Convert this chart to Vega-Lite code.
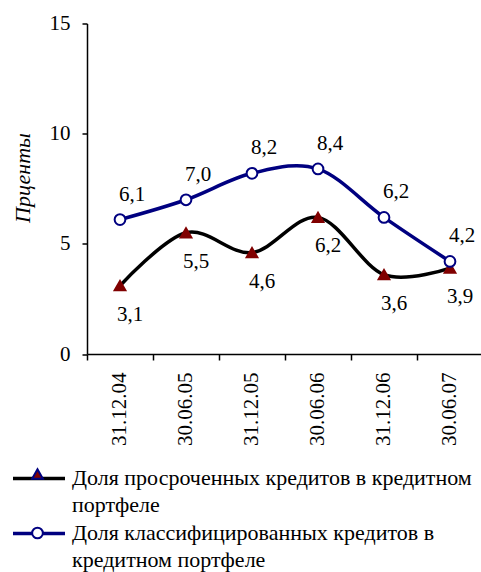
{
  "$schema": "https://vega.github.io/schema/vega-lite/v6.json",
  "autosize": "none",
  "width": 396,
  "height": 330.5,
  "padding": {"left": 87, "top": 23.5, "right": 0, "bottom": 218},
  "background": "white",
  "config": {
    "locale": {"number": {"decimal": ",", "thousands": " ", "grouping": [3], "currency": ["", ""]}},
    "font": "Liberation Serif",
    "view": {"stroke": null},
    "axis": {"grid": false, "domainColor": "black", "tickColor": "black", "domainWidth": 1.5, "tickWidth": 1.5, "labelFont": "Liberation Serif", "labelFontSize": 21, "labelColor": "black"}
  },
  "data": {"values": [
    {"date": "31.12.04", "series": "Доля просроченных кредитов в кредитном портфеле", "value": 3.1},
    {"date": "30.06.05", "series": "Доля просроченных кредитов в кредитном портфеле", "value": 5.5},
    {"date": "31.12.05", "series": "Доля просроченных кредитов в кредитном портфеле", "value": 4.6},
    {"date": "30.06.06", "series": "Доля просроченных кредитов в кредитном портфеле", "value": 6.2},
    {"date": "31.12.06", "series": "Доля просроченных кредитов в кредитном портфеле", "value": 3.6},
    {"date": "30.06.07", "series": "Доля просроченных кредитов в кредитном портфеле", "value": 3.9},
    {"date": "31.12.04", "series": "Доля классифицированных кредитов в кредитном портфеле", "value": 6.1},
    {"date": "30.06.05", "series": "Доля классифицированных кредитов в кредитном портфеле", "value": 7.0},
    {"date": "31.12.05", "series": "Доля классифицированных кредитов в кредитном портфеле", "value": 8.2},
    {"date": "30.06.06", "series": "Доля классифицированных кредитов в кредитном портфеле", "value": 8.4},
    {"date": "31.12.06", "series": "Доля классифицированных кредитов в кредитном портфеле", "value": 6.2},
    {"date": "30.06.07", "series": "Доля классифицированных кредитов в кредитном портфеле", "value": 4.2}
  ]},
  "encoding": {
    "x": {"field": "date", "type": "ordinal", "sort": null,
      "scale": {"type": "band", "paddingInner": 0, "paddingOuter": 0},
      "axis": {"title": null, "labelAngle": 270, "bandPosition": 0, "tickSize": 6, "labelPadding": 12, "labelFontSize": 21}},
    "y": {"field": "value", "type": "quantitative",
      "scale": {"domain": [0, 15], "nice": false},
      "axis": {"values": [0, 5, 10, 15], "tickSize": 5, "labelPadding": 12, "title": "Прценты",
        "titleFont": "Liberation Serif", "titleFontSize": 22, "titleFontStyle": "italic", "titleFontWeight": "normal", "titleColor": "black",
        "titleX": -65, "titleY": 154, "titleAngle": 270, "titleBaseline": "middle", "titleAlign": "center"}}
  },
  "layer": [
    {
      "mark": {"type": "line", "interpolate": "cardinal", "tension": 0, "strokeWidth": 3.5},
      "encoding": {
        "stroke": {"field": "series", "type": "nominal",
          "sort": ["Доля просроченных кредитов в кредитном портфеле", "Доля классифицированных кредитов в кредитном портфеле"],
          "scale": {"range": ["black", "#000080"]},
          "legend": {"orient": "none", "legendX": -59, "legendY": 444, "title": null, "padding": 0,
            "symbolType": "M-4,0H4", "symbolSize": 169, "symbolStrokeWidth": 3.5,
            "labelFont": "Liberation Serif", "labelFontSize": 22, "labelColor": "black", "labelLimit": 500, "labelBaseline": "alphabetic",
            "labelOffset": 22, "rowPadding": 6,
            "labelExpr": "split(replace(datum.label, regexp('^(.{1,38}) '), '$1|'), '|')",
            "encode": {"labels": {"update": {"lineHeight": {"value": 27}, "dy": {"value": 6}}}}}}
      }
    },
    {
      "mark": {"type": "point", "filled": true, "opacity": 1, "strokeWidth": 2, "size": 115},
      "encoding": {
        "shape": {"field": "series", "type": "nominal",
          "scale": {"domain": ["Доля просроченных кредитов в кредитном портфеле", "Доля классифицированных кредитов в кредитном портфеле"], "range": ["triangle-up", "circle"]},
          "legend": {"orient": "none", "legendX": -56, "legendY": 444, "title": null, "padding": 0,
            "symbolSize": 115, "symbolStrokeWidth": 2, "symbolOpacity": 1,
            "labelFontSize": 1, "labelLimit": 500, "labelExpr": "''", "labelOffset": 0, "rowPadding": 40,
            "encode": {
              "symbols": {"update": {
                "stroke": {"signal": "datum.value === 'Доля просроченных кредитов в кредитном портфеле' ? '#800000' : '#000080'"},
                "strokeWidth": {"value": 2}, "opacity": {"value": 1}}}}}},
        "fill": {"field": "series", "type": "nominal",
          "scale": {"domain": ["Доля просроченных кредитов в кредитном портфеле", "Доля классифицированных кредитов в кредитном портфеле"], "range": ["#800000", "white"]},
          "legend": {"orient": "none", "legendX": -56, "legendY": 444, "title": null, "padding": 0,
            "symbolSize": 115, "symbolStrokeWidth": 2, "symbolOpacity": 1,
            "labelFontSize": 1, "labelLimit": 500, "labelExpr": "''", "labelOffset": 0, "rowPadding": 40,
            "encode": {
              "symbols": {"update": {
                "stroke": {"signal": "datum.value === 'Доля просроченных кредитов в кредитном портфеле' ? '#800000' : '#000080'"},
                "strokeWidth": {"value": 2}, "opacity": {"value": 1}}}}}},
        "stroke": {"condition": {"test": "datum.series === 'Доля просроченных кредитов в кредитном портфеле'", "value": "#800000"}, "value": "#000080"}
      }
    },
    {
      "transform": [{"filter": "datum.series === 'Доля классифицированных кредитов в кредитном портфеле'"}],
      "mark": {"type": "text", "font": "Liberation Serif", "fontSize": 21, "color": "black", "dx": 12, "dy": -25, "baseline": "middle"},
      "encoding": {"text": {"field": "value", "type": "quantitative", "format": ".1f"}}
    },
    {
      "transform": [{"filter": "datum.series === 'Доля просроченных кредитов в кредитном портфеле'"}],
      "mark": {"type": "text", "font": "Liberation Serif", "fontSize": 21, "color": "black", "dx": 10, "dy": 29, "baseline": "middle"},
      "encoding": {"text": {"field": "value", "type": "quantitative", "format": ".1f"}}
    }
  ]
}
